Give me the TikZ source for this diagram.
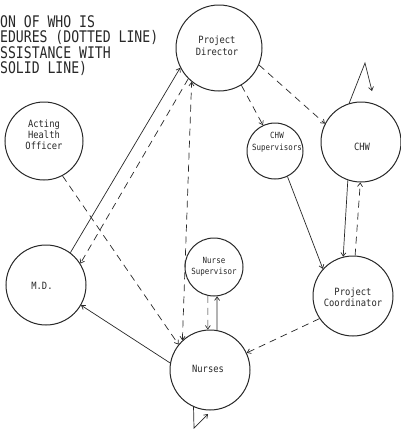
\documentclass[tikz,border=0pt]{standalone}
\usepackage{fontspec}
\usetikzlibrary{arrows.meta}
\newfontfamily\typew[FakeStretch=0.82]{DejaVu Sans Mono}
\newfontfamily\labw[FakeStretch=0.88]{DejaVu Sans Mono}
\definecolor{ink}{RGB}{40,40,40}
\begin{document}
\begin{tikzpicture}[x=1pt,y=-1pt,
  circ/.style={circle, draw=ink, line width=1pt, inner sep=0pt},
  lbl/.style={font=\labw\fontsize{10}{11.5}\selectfont, align=center, text=ink, inner sep=0pt},
  slbl/.style={font=\labw\fontsize{8.5}{11.5}\selectfont, align=center, text=ink, inner sep=0pt},
  head/.style={font=\typew\fontsize{16}{16}\selectfont, text=ink, inner sep=0pt, anchor=base west},
  sol/.style={draw=ink, line width=0.7pt, -{Straight Barb[length=3.5pt,width=5pt]}},
  dsh/.style={sol, dash pattern=on 7pt off 5pt},
  dshb/.style={dsh, {Straight Barb[length=3.5pt,width=5pt]}-{Straight Barb[length=3.5pt,width=5pt]}}
]
\fill[white] (0,0) rectangle (400,429);
\useasboundingbox (0,0) rectangle (400,429);

% heading text
\node[head] (h1) at (0,27) {ON OF WHO IS};
\node[head] (h2) at (0,42.5) {EDURES (DOTTED LINE)};
\node[head] (h3) at (0,58) {SSISTANCE WITH};
\node[head] (h4) at (0,73.5) {SOLID LINE)};

% circles
\node[circ, minimum size=86pt] (pd) at (219,48) {};
\node[circ, minimum size=78pt] (aho) at (44,141) {};
\node[circ, minimum size=80pt] (md) at (46,285) {};
\node[circ, minimum size=56pt] (cs) at (275,151) {};
\node[circ, minimum size=80pt] (chw) at (361,142) {};
\node[circ, minimum size=80pt] (pc) at (353,296) {};
\node[circ, minimum size=58pt] (ns) at (214,267) {};
\node[circ, minimum size=80pt] (n) at (210,370) {};

% labels
\node[lbl] (pd-t) at (217,46) {Project\\Director};
\node[lbl, font=\labw\fontsize{10}{11}\selectfont] (aho-t) at (44,135) {Acting\\Health\\Officer};
\node[lbl] (md-t) at (42,286) {M.D.};
\node[slbl, font=\labw\fontsize{8.5}{12}\selectfont] (cs-t) at (277,142) {CHW\\Supervisors};
\node[lbl] (chw-t) at (362,147) {CHW};
\node[lbl, font=\labw\fontsize{10}{11}\selectfont] (pc-t) at (353,297.5) {Project\\Coordinator};
\node[slbl, font=\labw\fontsize{8.5}{11}\selectfont] (ns-t) at (214,266.5) {Nurse\\Supervisor};
\node[lbl] (n-t) at (208,369) {Nurses};

% loop coordinates
\coordinate (chwup) at (365,63);
\coordinate (chwend) at (372,91);
\coordinate (nlow) at (194,428);
\coordinate (nend) at (208,414);

% connectors
\draw[dsh] (pd.-59) -- (cs.115);
\draw[dsh] (pd.-23) -- (chw.153);
\draw[sol] (chw.107) -- (chwup) -- (chwend);
\draw[sol] (cs.-64) -- (pc.138);
\draw[sol] (chw.-109) -- (pc.104);
\draw[dsh] (pc.87) -- (chw.-91);
\draw[dsh] (pc.214) -- (n.25);
\draw[dsh] (ns.-102) -- (n.93);
\draw[sol] (n.80) -- (ns.-84);
\draw[sol] (n.170) -- (md.-30);
\draw[sol] (n.246) -- (nlow) -- (nend);
\draw[dsh] (aho.-62) -- (n.141);
\draw[sol] (md.53) -- (pd.207);
\draw[dsh] (pd.225) -- (md.32);
\draw[dshb] (n.133) -- (pd.231);
\end{tikzpicture}
\end{document}
